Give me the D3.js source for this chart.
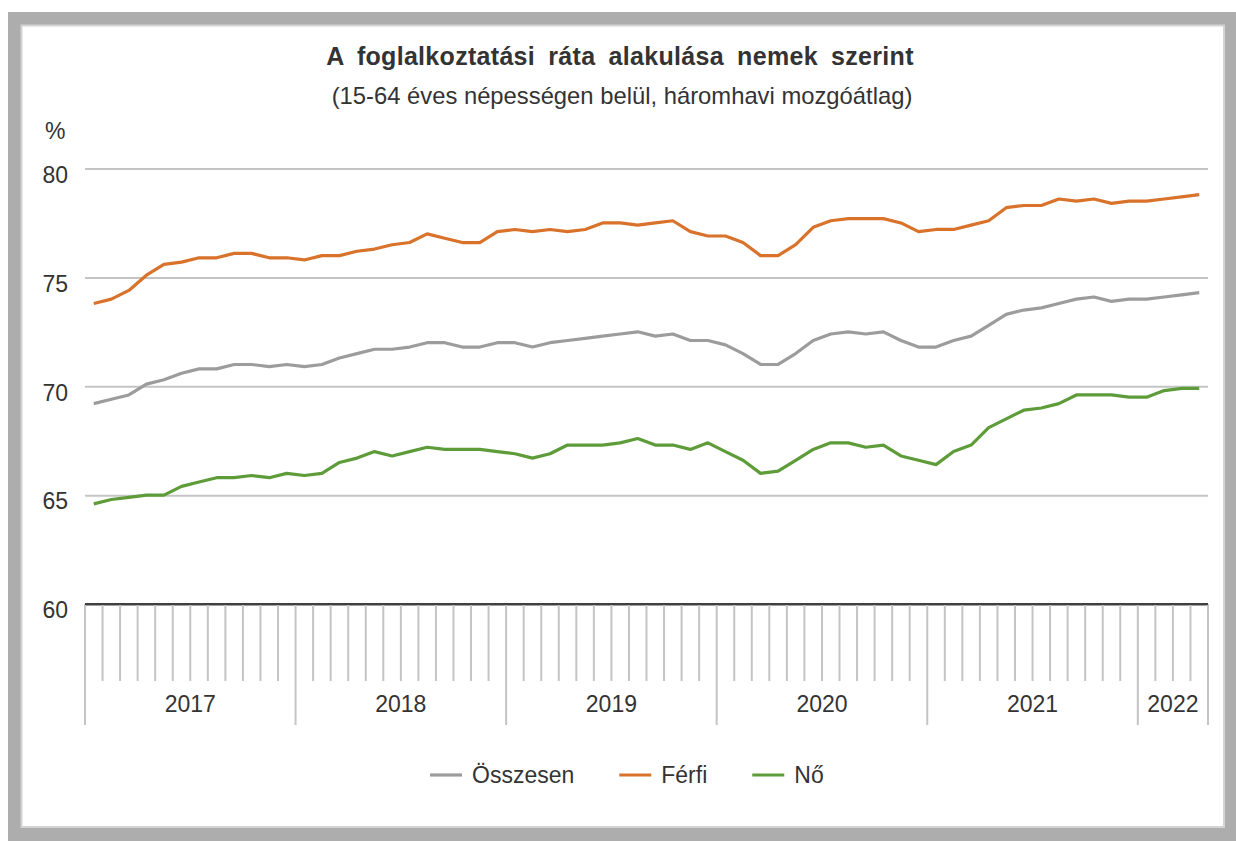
<!DOCTYPE html>
<html>
<head>
<meta charset="utf-8">
<script src="https://cdnjs.cloudflare.com/ajax/libs/d3/7.8.5/d3.min.js"></script>
<style>
  html, body { margin: 0; padding: 0; background: #fff; }
  svg { display: block; font-family: "Liberation Sans", Arial, sans-serif; }
</style>
</head>
<body>
<svg id="chart" width="1236" height="841"></svg>
<script>
/* Foglalkoztatási ráta nemek szerint – havi adatok 2017.01 – 2022.04 */

const years = ["2017", "2018", "2019", "2020", "2021", "2022"];
const monthsPerYear = [12, 12, 12, 12, 12, 4];
const yTicks = [60, 65, 70, 75, 80];

const seriesNames = ["Összesen", "Férfi", "Nő"];

const osszesen = [
  69.2, 69.4, 69.6, 70.1, 70.3, 70.6, 70.8, 70.8, 71.0, 71.0, 70.9, 71.0,
  70.9, 71.0, 71.3, 71.5, 71.7, 71.7, 71.8, 72.0, 72.0, 71.8, 71.8, 72.0,
  72.0, 71.8, 72.0, 72.1, 72.2, 72.3, 72.4, 72.5, 72.3, 72.4, 72.1, 72.1,
  71.9, 71.5, 71.0, 71.0, 71.5, 72.1, 72.4, 72.5, 72.4, 72.5, 72.1, 71.8,
  71.8, 72.1, 72.3, 72.8, 73.3, 73.5, 73.6, 73.8, 74.0, 74.1, 73.9, 74.0,
  74.0, 74.1, 74.2, 74.3
];
const ferfi = [
  73.8, 74.0, 74.4, 75.1, 75.6, 75.7, 75.9, 75.9, 76.1, 76.1, 75.9, 75.9,
  75.8, 76.0, 76.0, 76.2, 76.3, 76.5, 76.6, 77.0, 76.8, 76.6, 76.6, 77.1,
  77.2, 77.1, 77.2, 77.1, 77.2, 77.5, 77.5, 77.4, 77.5, 77.6, 77.1, 76.9,
  76.9, 76.6, 76.0, 76.0, 76.5, 77.3, 77.6, 77.7, 77.7, 77.7, 77.5, 77.1,
  77.2, 77.2, 77.4, 77.6, 78.2, 78.3, 78.3, 78.6, 78.5, 78.6, 78.4, 78.5,
  78.5, 78.6, 78.7, 78.8
];
const no = [
  64.6, 64.8, 64.9, 65.0, 65.0, 65.4, 65.6, 65.8, 65.8, 65.9, 65.8, 66.0,
  65.9, 66.0, 66.5, 66.7, 67.0, 66.8, 67.0, 67.2, 67.1, 67.1, 67.1, 67.0,
  66.9, 66.7, 66.9, 67.3, 67.3, 67.3, 67.4, 67.6, 67.3, 67.3, 67.1, 67.4,
  67.0, 66.6, 66.0, 66.1, 66.6, 67.1, 67.4, 67.4, 67.2, 67.3, 66.8, 66.6,
  66.4, 67.0, 67.3, 68.1, 68.5, 68.9, 69.0, 69.2, 69.6, 69.6, 69.6, 69.5,
  69.5, 69.8, 69.9, 69.9
];

const COLORS = new Map([
  ["Összesen", "#9c9c9c"],
  ["Férfi", "#d9722b"],
  ["Nő", "#5e9c3a"],
]);

/* ---------- categories ---------- */
const months = [];
years.forEach((yr, yi) => {
  for (let m = 1; m <= monthsPerYear[yi]; m++) {
    months.push({ key: `${yr}-${String(m).padStart(2, "0")}`, year: yr, m });
  }
});

const series = [
  { name: "Összesen", values: osszesen },
  { name: "Férfi", values: ferfi },
  { name: "Nő", values: no },
];

/* ---------- layout ---------- */
const W = 1236, H = 841;
const plot = { left: 85, right: 1208, top: 168.5, bottom: 604 };
const TXT = "#333333";
const FS = 23;

const svg = d3.select("#chart");

// keret
svg.append("rect").attr("x", 8).attr("y", 12).attr("width", W - 8).attr("height", H - 12)
  .attr("fill", "#adadad");
svg.append("rect").attr("x", 21.5).attr("y", 25.5).attr("width", 1224 - 21.5).attr("height", 827 - 25.5)
  .attr("fill", "#fff").attr("stroke", "#d4d4d4").attr("stroke-width", 2);

const x = d3.scaleBand()
  .domain(months.map(d => d.key))
  .range([plot.left, plot.right])
  .paddingInner(0).paddingOuter(0);
const xc = k => x(k) + x.bandwidth() / 2;

const y = d3.scaleLinear().domain([60, 80]).range([plot.bottom, plot.top]);

/* ---------- title ---------- */
svg.append("text")
  .attr("x", 620).attr("y", 65)
  .attr("text-anchor", "middle")
  .attr("font-size", 25).attr("font-weight", "bold")
  .attr("letter-spacing", 0.3).attr("word-spacing", 6)
  .attr("fill", TXT)
  .text("A foglalkoztatási ráta alakulása nemek szerint");

svg.append("text")
  .attr("x", 622).attr("y", 104)
  .attr("text-anchor", "middle")
  .attr("font-size", 23.8)
  .attr("fill", TXT)
  .text("(15-64 éves népességen belül, háromhavi mozgóátlag)");

svg.append("text")
  .attr("x", 45).attr("y", 139)
  .attr("font-size", FS).attr("fill", TXT)
  .text("%");

/* ---------- y axis + grid ---------- */
const yAxis = d3.axisLeft(y)
  .tickValues(yTicks)
  .tickSize(-(plot.right - plot.left))
  .tickPadding(17)
  .tickFormat(d3.format("d"));

const gy = svg.append("g")
  .attr("transform", `translate(${plot.left},0)`)
  .call(yAxis);
gy.select(".domain").remove();
gy.selectAll(".tick line")
  .attr("stroke", d => d === 60 ? "#404040" : "#c4c4c4")
  .attr("stroke-width", 2);
gy.selectAll(".tick text")
  .attr("font-size", FS)
  .attr("font-family", "Liberation Sans, Arial, sans-serif")
  .attr("fill", TXT)
  .attr("dy", "0.6em")
  .attr("x", -17);

/* ---------- x axis: hónap- és évhatárok ---------- */
const gx = svg.append("g").attr("class", "x-axis");
const bounds = months.map(d => ({ xv: x(d.key), long: d.m === 1 }));
bounds.push({ xv: plot.right, long: true });

gx.selectAll("line.tick")
  .data(bounds)
  .join("line")
  .attr("class", "tick")
  .attr("x1", d => d.xv).attr("x2", d => d.xv)
  .attr("y1", plot.bottom)
  .attr("y2", d => d.long ? 725 : 681)
  .attr("stroke", "#c4c4c4")
  .attr("stroke-width", 2);

// tengelyvonal újra, hogy a tickek fölött legyen
gx.append("line")
  .attr("x1", plot.left).attr("x2", plot.right)
  .attr("y1", y(60)).attr("y2", y(60))
  .attr("stroke", "#404040").attr("stroke-width", 2);

const yearCenters = years.map(yr => {
  const ks = months.filter(d => d.year === yr).map(d => d.key);
  const x0 = x(ks[0]);
  const x1 = x(ks[ks.length - 1]) + x.bandwidth();
  return { yr, cx: (x0 + x1) / 2 };
});

gx.selectAll("text.year")
  .data(yearCenters)
  .join("text")
  .attr("class", "year")
  .attr("x", d => d.cx).attr("y", 712)
  .attr("text-anchor", "middle")
  .attr("font-size", FS).attr("fill", TXT)
  .text(d => d.yr);

/* ---------- lines ---------- */
const line = d3.line()
  .x((v, i) => xc(months[i].key))
  .y(v => y(v));

svg.append("g").attr("class", "series")
  .selectAll("path")
  .data(series)
  .join("path")
  .attr("fill", "none")
  .attr("stroke", d => COLORS.get(d.name))
  .attr("stroke-width", 3.2)
  .attr("stroke-linejoin", "round")
  .attr("d", d => line(d.values));

/* ---------- legend ---------- */
const lg = svg.append("g").attr("class", "legend");
let lx = 430;
seriesNames.forEach(name => {
  lg.append("line")
    .attr("x1", lx).attr("x2", lx + 32)
    .attr("y1", 775).attr("y2", 775)
    .attr("stroke", COLORS.get(name)).attr("stroke-width", 3.2);
  const t = lg.append("text")
    .attr("x", lx + 42).attr("y", 783)
    .attr("font-size", FS).attr("fill", TXT)
    .text(name);
  lx += 42 + t.node().getComputedTextLength() + 45;
});
</script>
</body>
</html>
